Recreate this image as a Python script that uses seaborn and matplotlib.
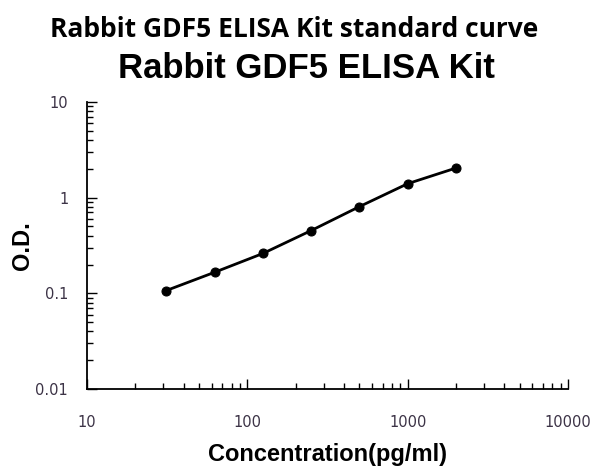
import numpy as np
import pandas as pd
import matplotlib
matplotlib.use('Agg')
import matplotlib.pyplot as plt
import seaborn as sns

# Standard curve values
conc = [31.25, 62.5, 125, 250, 500, 1000, 2000]
od = [0.107, 0.166, 0.261, 0.453, 0.806, 1.40, 2.04]
x_ticks = [10, 100, 1000, 10000]
x_labels = ['10', '100', '1000', '10000']
y_ticks = [0.01, 0.1, 1, 10]
y_labels = ['0.01', '0.1', '1', '10']

df = pd.DataFrame({'conc': conc, 'od': od})

sns.set_style('ticks')
plt.rcParams['font.family'] = ['Liberation Sans', 'DejaVu Sans']

fig = plt.figure(figsize=(5.94, 4.66), dpi=100)
ax = fig.add_axes([87 / 594, 1 - 389 / 466, (568 - 87) / 594, (389 - 102) / 466])

sns.lineplot(data=df, x='conc', y='od', ax=ax, color='black', linewidth=2,
             marker='o', markersize=6.5, markeredgecolor='black')

ax.set_xscale('log')
ax.set_yscale('log')
ax.set_xlim(10, 10000)
ax.set_ylim(0.01, 10)
ax.set_xticks(x_ticks)
ax.set_xticklabels(x_labels, family='DejaVu Sans')
ax.set_yticks(y_ticks)
ax.set_yticklabels(y_labels, family='DejaVu Sans')

sns.despine(ax=ax)
for s in ['left', 'bottom']:
    ax.spines[s].set_linewidth(1.3)
    ax.spines[s].set_color('black')

ax.tick_params(which='major', direction='in', length=7, width=1, color='black',
               labelsize=10.5, labelcolor='#3c3346')
ax.tick_params(which='minor', direction='in', length=4, width=1, color='black')
ax.tick_params(axis='x', which='major', pad=19)
ax.tick_params(axis='y', which='major', pad=13.5)

ax.set_xlabel('Concentration(pg/ml)', fontsize=17, fontweight='bold', color='black')
ax.set_ylabel('O.D.', fontsize=17, fontweight='bold', color='black')
ax.xaxis.label.set_verticalalignment('center')
ax.yaxis.label.set_verticalalignment('center')
ax.xaxis.set_label_coords(0.5, (389 - 454) / 287)
ax.yaxis.set_label_coords((23 - 87) / 481, 0.5)

fig.text(294 / 594, 1 - 37 / 466, 'Rabbit GDF5 ELISA Kit standard curve', ha='center', va='baseline',
         fontsize=19, fontweight='bold', color='black', family=['Open Sans', 'DejaVu Sans'])
fig.text(306 / 594, 1 - 78 / 466, 'Rabbit GDF5 ELISA Kit', ha='center', va='baseline',
         fontsize=25, fontweight='bold', color='black')

fig.savefig('out.png', dpi=100)
